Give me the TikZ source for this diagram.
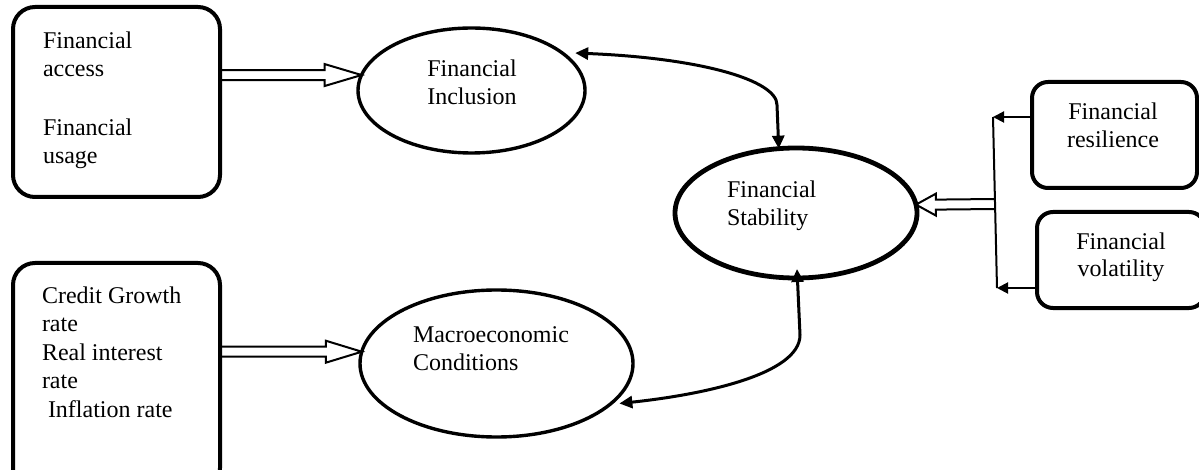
\documentclass[tikz,border=0pt]{standalone}
\usepackage{fontspec}
\setmainfont{Liberation Serif}
\usetikzlibrary{arrows.meta,shapes.geometric,calc}
\begin{document}
\begin{tikzpicture}[x=1pt,y=-1pt,
  every node/.style={inner sep=0pt,outer sep=0pt},
  txt/.style={font=\fontsize{24}{28}\selectfont,align=left,anchor=base west},
  ctxt/.style={font=\fontsize{24}{28}\selectfont,align=center,anchor=base},
  bigbox/.style={draw,line width=4pt,rounded corners=22pt,rectangle},
  smallbox/.style={draw,line width=4pt,rounded corners=16pt,rectangle},
  oval/.style={draw,ellipse,line width=3.4pt},
  thickoval/.style={draw,ellipse,line width=4.8pt},
  dbl/.style={line width=2pt,line join=miter},
  curv/.style={line width=3pt,{Triangle[length=13pt,width=12pt]}-{Triangle[length=13pt,width=12pt]}},
  thin/.style={line width=2pt},
  thinarr/.style={line width=2pt,-{Triangle[length=11pt,width=11pt]}}]
\fill[white] (0,0) rectangle (1199,470);
\clip (0,0) rectangle (1199,470);

% boxes
\node[bigbox,minimum width=207pt,minimum height=190pt] (b1) at (116.5,102) {};
\node[bigbox,minimum width=207pt,minimum height=227pt] (b2) at (116.5,376.5) {};
\node[smallbox,minimum width=165pt,minimum height=106pt] (res) at (1114.5,135) {};
\node[smallbox,minimum width=168pt,minimum height=96pt] (vol) at (1121,260) {};

% ellipses
\node[oval,minimum width=227pt,minimum height=125pt] (incl) at (471.5,90.5) {};
\node[thickoval,minimum width=242pt,minimum height=130pt] (stab) at (796,213) {};
\node[oval,minimum width=273pt,minimum height=147pt] (macro) at (496.5,363.5) {};

% texts (anchor = baseline of the last line)
\node[txt] (t1) at (43,164) {Financial\\access\\[31pt]Financial\\usage};
\node[txt,font=\fontsize{24}{28.5}\selectfont] (t2) at (42,417) {Credit Growth\\rate\\Real interest\\rate\\\hspace*{6pt}Inflation rate};
\node[ctxt] (tincl) at (472,105) {Financial\\Inclusion};
\node[txt] (tstab) at (727,226) {Financial\\Stability};
\node[txt] (tmacro) at (413,370) {Macroeconomic\\Conditions};
\node[ctxt] (tres) at (1113,148) {Financial\\resilience};
\node[ctxt] (tvol) at (1121,277) {Financial\\volatility};

% double arrow 1: b1 -> incl
\coordinate (s1) at (b1.east |- incl.172);
\coordinate (e1) at (incl.172);
\draw[dbl] ($(s1)+(0,-5)$) -- ($(e1)+(-37,-5)$) -- ($(e1)+(-37,-11)$) -- (e1)
  -- ($(e1)+(-37,11)$) -- ($(e1)+(-37,5)$) -- ($(s1)+(0,5)$);

% double arrow 2: b2 -> macro
\coordinate (e2) at (macro.175);
\coordinate (s2) at (b2.east |- e2);
\draw[dbl] ($(s2)+(0,-5)$) -- ($(e2)+(-36,-5)$) -- ($(e2)+(-36,-11)$) -- (e2)
  -- ($(e2)+(-36,11)$) -- ($(e2)+(-36,5)$) -- ($(s2)+(0,5)$);

% right side collector
\coordinate (vt) at (993,117);
\coordinate (vb) at (997,288);
\coordinate (vm) at (995,204);
\draw[thin] (vt) -- (vb);
\draw[thinarr] (res.west |- vt) -- (vt);
\draw[thinarr] (vol.west |- vb) -- (vb);

% double arrow 3: collector -> stab
\coordinate (e3) at (stab.4);
\draw[dbl] ($(vm)+(0,-5)$) -- ($(e3)+(20,-5)$) -- ($(e3)+(20,-11)$) -- (e3)
  -- ($(e3)+(20,11)$) -- ($(e3)+(20,5)$) -- ($(vm)+(0,5)$);

% curved double-headed arrows
\draw[curv] ($(incl.20)+(9,-3)$) .. controls (700,58) and (777,80) .. (777,105) -- (stab.105);
\draw[curv] ($(macro.-18)+(6,2)$) .. controls (700,395) and (800,375) .. (800,335) -- ($(stab.south)+(1,-9)$);
\end{tikzpicture}
\end{document}
